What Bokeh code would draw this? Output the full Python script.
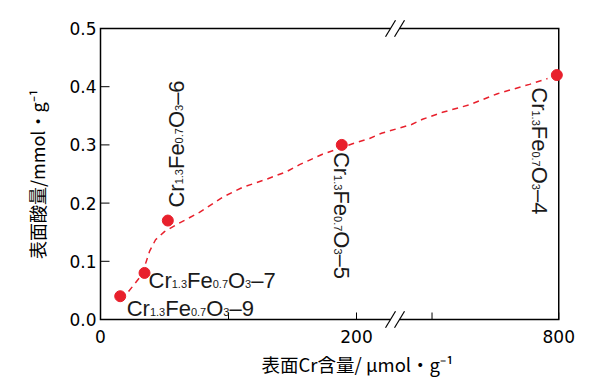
import math
from bokeh.plotting import figure
from bokeh.models import FixedTicker, PrintfTickFormatter, Title, ColumnDataSource, Range1d
from bokeh.core.properties import value
from bokeh.embed import file_html
from bokeh.resources import INLINE

# ---------------- data ----------------
sample_x = [15.4, 34.4, 52.6, 188.5, 797.0]      # surface Cr content, umol/g
sample_y = [0.04, 0.08, 0.17, 0.30, 0.42]        # surface acid amount, mmol/g
sample_id = ["9", "7", "6", "5", "4"]

curve_x = [21.9, 30.5, 35.2, 38.3, 43.0, 50.0, 59.4, 77.3, 95.3, 110.9, 129.7,
           145.3, 155.5, 173.4, 196.9, 210.2, 219.5, 545.5, 567.7, 585.0,
           616.6, 659.2, 703.4, 753.9, 782.3]
curve_y = [0.048, 0.072, 0.096, 0.117, 0.137, 0.151, 0.163, 0.184, 0.210, 0.227,
           0.241, 0.254, 0.266, 0.284, 0.302, 0.311, 0.320, 0.328, 0.335, 0.344,
           0.356, 0.369, 0.388, 0.404, 0.414]

y_ticks = [0.0, 0.1, 0.2, 0.3, 0.4, 0.5]
x_tick_values = [0, 100, 200, 600, 800]
x_tick_labels = ["0", "", "200", "", "800"]

y_label = "表面酸量/mmol・g⁻¹"
x_label = "表面Cr含量/ μmol・g⁻¹"

RED = "#e8202c"

# ---------------- broken x axis transform ----------------
def to_disp(v):
    if v <= 400:
        return v
    return 259 + (v - 600) * 99 / 200

X_END = to_disp(800)
BREAK_U = 230.1
PX_X = 1.28     # px per display unit
PX_Y = 582.0    # px per y unit

ML, MR, MT, MB = 97, 10, 18, 50
fw, fh = 469, 311
x0 = -3 / PX_X
y0 = -10 / PX_Y

p = figure(frame_width=fw, frame_height=fh, output_backend="svg", toolbar_location=None,
           x_range=Range1d(x0, x0 + fw / PX_X), y_range=Range1d(y0, y0 + fh / PX_Y),
           min_border_left=ML, min_border_right=MR, min_border_top=MT, min_border_bottom=MB)
p.grid.visible = False
p.outline_line_color = None
p.background_fill_color = "white"

# frame with break gaps
sep = 4.5 / PX_X
p.multi_line(xs=[[BREAK_U - sep, 0, 0, BREAK_U - sep], [BREAK_U + sep, X_END, X_END, BREAK_U + sep]],
             ys=[[0.5, 0.5, 0, 0], [0, 0, 0.5, 0.5]], line_color="black", line_width=1.5,
             line_join="miter")
# break slashes
sx_, sy_ = 5 / PX_X, 8.3 / PX_Y
bx0, bx1, by0, by1 = [], [], [], []
for yy in (0.0, 0.5):
    for c in (BREAK_U - sep, BREAK_U + sep):
        bx0.append(c - sx_); bx1.append(c + sx_)
        by0.append(yy - sy_); by1.append(yy + sy_)
p.segment(bx0, by0, bx1, by1, line_color="black", line_width=1.2)

# inward ticks
p.segment([0] * len(y_ticks), y_ticks, [9 / PX_X] * len(y_ticks), y_ticks,
          line_color="black", line_width=1)
xt = [to_disp(v) for v in x_tick_values]
p.segment(xt, [0] * len(xt), xt, [7 / PX_Y] * len(xt), line_color="black", line_width=1)

# axes (labels only)
p.xaxis.ticker = FixedTicker(ticks=xt)
p.xaxis.major_label_overrides = {to_disp(v): lab for v, lab in zip(x_tick_values, x_tick_labels)}
p.yaxis.ticker = FixedTicker(ticks=y_ticks)
p.yaxis.formatter = PrintfTickFormatter(format="%.1f")
for ax in (p.xaxis, p.yaxis):
    ax.axis_line_color = None
    ax.major_tick_in = 0
    ax.major_tick_out = 0
    ax.minor_tick_line_color = None
    ax.major_label_text_font = "DejaVu Sans"
    ax.major_label_text_font_size = "17px"
    ax.major_label_text_color = "black"
p.xaxis.major_label_standoff = 0
p.yaxis.major_label_standoff = 1
p.yaxis.axis_label = y_label
p.yaxis.axis_label_text_font = "Noto Sans CJK JP"
p.yaxis.axis_label_text_font_size = "18px"
p.yaxis.axis_label_text_font_style = "normal"
p.yaxis.axis_label_text_color = "black"
p.yaxis.axis_label_standoff = 16

p.add_layout(Title(text=x_label, align="left", offset=164, standoff=6,
                   text_font="Noto Sans CJK JP", text_font_size="18.5px",
                   text_font_style="normal", text_color="black"), "below")

# dashed fitted curve
p.line([to_disp(v) for v in curve_x], curve_y, line_color=RED, line_width=1.5,
       line_dash="6 5")
# sample points
p.scatter([to_disp(v) for v in sample_x], sample_y, size=11, fill_color=RED,
          line_color=RED)

# composite chemical-formula labels
WID = {'C': 722, 'r': 333, 'F': 611, 'e': 556, 'O': 778, '–': 556, '.': 278}
def tw(s, size):
    return sum(WID.get(ch, 556) for ch in s) * size / 1000.0

label_layout = {"9": (0, 6.5, 12.3), "7": (0, 4, 8), "6": (90, 8.4, -13),
                "5": (-90, -0.6, 7), "4": (-90, -17.7, 12.2)}
src = dict(x=[], y=[], text=[], angle=[], xo=[], yo=[], fs=[])
for xv, yv, sid in zip(sample_x, sample_y, sample_id):
    deg, dx, dy = label_layout[sid]
    a = math.radians(deg)
    r = (math.cos(a), -math.sin(a))
    d = (math.sin(a), math.cos(a))
    pieces = [("Cr", 22, 0), ("1.3", 11, 3.0), ("Fe", 22, 0), ("0.7", 11, 3.0),
              ("O", 22, 0), ("3", 11, 3.0), ("–" + sid, 22, 0)]
    adv = 0.0
    for txt, size, sh in pieces:
        src["x"].append(to_disp(xv)); src["y"].append(yv)
        src["text"].append(txt); src["angle"].append(a)
        src["xo"].append(dx + adv * r[0] + sh * d[0])
        src["yo"].append(dy + adv * r[1] + sh * d[1])
        src["fs"].append(f"{size}px")
        adv += tw(txt, size)
p.text(x="x", y="y", text="text", angle="angle", x_offset="xo", y_offset="yo",
       text_font_size="fs", text_font=value("Liberation Sans"), text_color="#1a1a1a",
       text_align="left", text_baseline="alphabetic", source=ColumnDataSource(src))

open("out.html", "w").write(file_html(p, INLINE))
